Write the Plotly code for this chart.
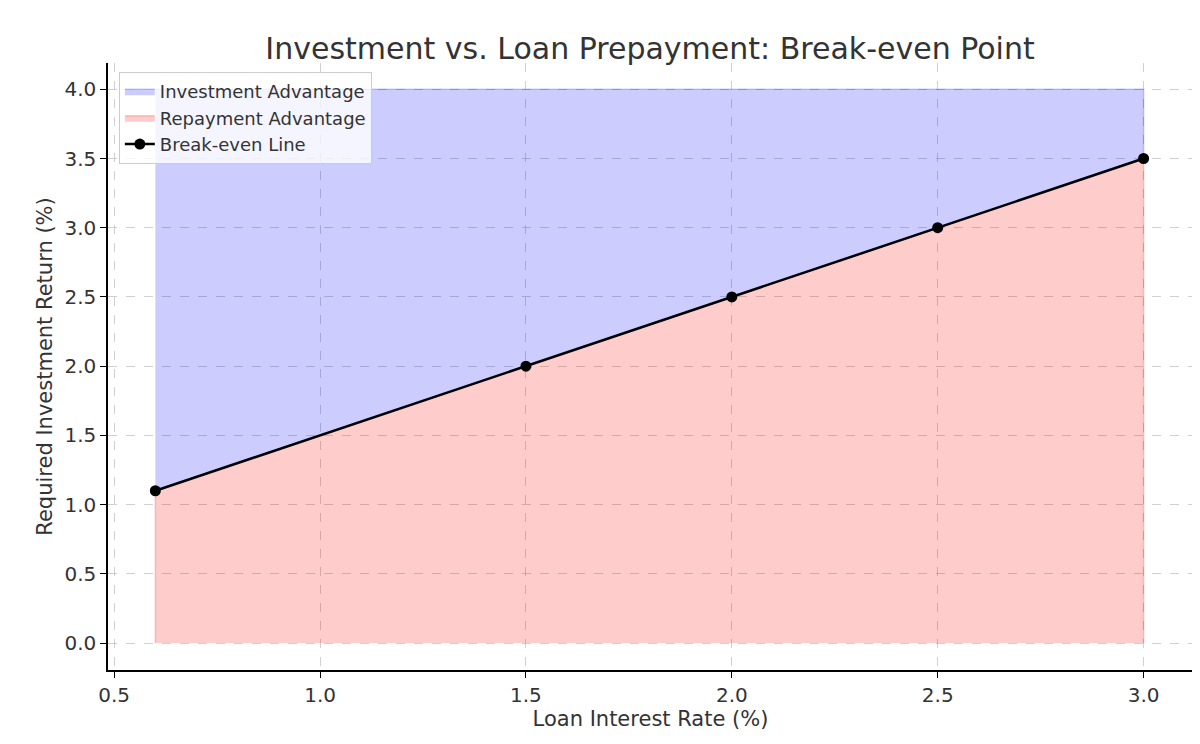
import plotly.graph_objs as go

loan_rate = [0.6, 1.5, 2.0, 2.5, 3.0]
required_return = [1.1, 2.0, 2.5, 3.0, 3.5]
upper_limit = 4.0

fig = go.Figure()

# investment advantage: region between break-even line and the upper limit
fig.add_trace(go.Scatter(
    x=loan_rate + loan_rate[::-1],
    y=required_return + [upper_limit] * len(loan_rate),
    fill="toself", mode="lines",
    line=dict(color="rgba(0,0,255,0.2)", width=1.5),
    fillcolor="rgba(0,0,255,0.2)",
    name="Investment Advantage"))

# repayment advantage: below the break-even line
fig.add_trace(go.Scatter(
    x=[loan_rate[0]] + loan_rate + [loan_rate[-1]],
    y=[0] + required_return + [0],
    fill="toself", mode="lines",
    line=dict(color="rgba(255,0,0,0.2)", width=1.5),
    fillcolor="rgba(255,0,0,0.2)",
    name="Repayment Advantage"))

fig.add_trace(go.Scatter(
    x=loan_rate, y=required_return, mode="lines+markers",
    line=dict(color="black", width=2.5),
    marker=dict(color="black", size=11),
    name="Break-even Line"))

axis_common = dict(
    showgrid=True, gridcolor="rgba(170,170,170,0.55)", griddash="dash", gridwidth=0.8,
    showline=True, linecolor="black", linewidth=1.5,
    ticks="outside", ticklen=6, tickcolor="black",
    tickformat=".1f", zeroline=False,
    tickfont=dict(size=20, color="#333333"),
    title_font=dict(size=21, color="#333333"),
)

fig.update_layout(
    width=1200, height=744,
    paper_bgcolor="white", plot_bgcolor="white",
    font=dict(family="DejaVu Sans", color="#333333"),
    title=dict(text="Investment vs. Loan Prepayment: Break-even Point",
               x=0.535, xanchor="center", y=0.96, font=dict(size=30)),
    margin=dict(l=100, r=15, t=55, b=82, autoexpand=False),
    showlegend=True,
    legend=dict(x=0.01, y=0.985, xanchor="left", yanchor="top",
                bgcolor="rgba(255,255,255,0.8)", bordercolor="#cccccc",
                borderwidth=1, font=dict(size=18, color="#333333")),
    xaxis=dict(range=[0.485, 3.12], dtick=0.5, tick0=0.5,
               title=dict(text="Loan Interest Rate (%)", standoff=6),
               **axis_common),
    yaxis=dict(range=[-0.195, 4.19], dtick=0.5, tick0=0,
               title=dict(text="Required Investment Return (%)", standoff=6),
               **axis_common),
)

fig.write_html("out.html")
